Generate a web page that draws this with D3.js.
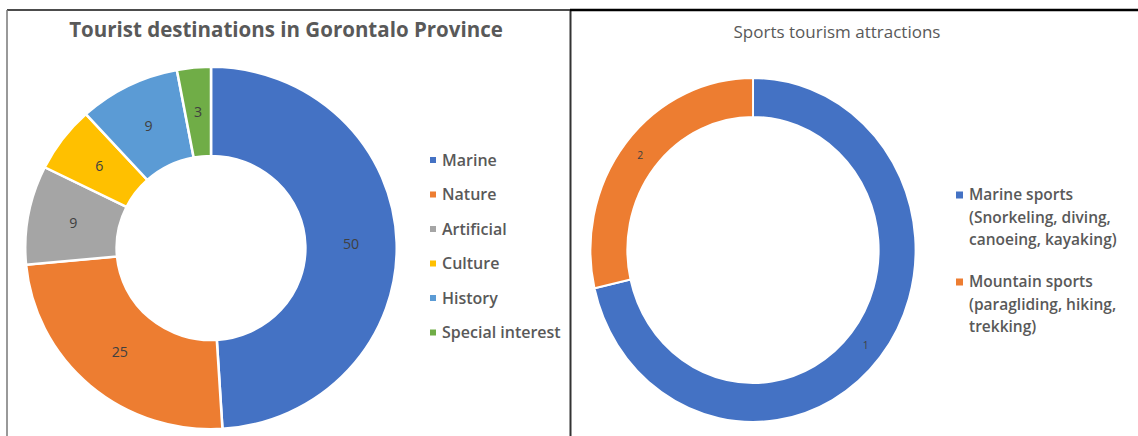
<!DOCTYPE html>
<html>
<head>
<meta charset="utf-8">
<script src="https://cdn.jsdelivr.net/npm/d3@7"></script>
<style>
  body { margin: 0; background: #fff; }
  svg { display: block; font-family: 'Open Sans', Lato, sans-serif; }
  .title { fill: #595959; }
  .legend text { fill: #595959; font-weight: 600; }
  .dlabel { fill: #404040; }
</style>
</head>
<body>
<script>
// left chart data
var destCategories = ['Marine', 'Nature', 'Artificial', 'Culture', 'History', 'Special interest'];
var destValues = [50, 25, 9, 6, 9, 3];
var destColors = ['#4472C4', '#ED7D31', '#A5A5A5', '#FFC000', '#5B9BD5', '#70AD47'];

// right chart data
var sportsCategories = [
  ['Marine sports', '(Snorkeling, diving,', 'canoeing, kayaking)'],
  ['Mountain sports', '(paragliding, hiking,', 'trekking)']
];
var sportsValues = [5, 2];
var sportsLabels = ['1', '2'];
var sportsColors = ['#4472C4', '#ED7D31'];

var width = 1138, height = 436;

var svg = d3.select('body').append('svg')
  .attr('width', width)
  .attr('height', height);

// panel frames
svg.append('line').attr('x1', 7).attr('y1', 10).attr('x2', 570).attr('y2', 10)
  .attr('stroke', '#111').attr('stroke-width', 1.5);
svg.append('line').attr('x1', 7).attr('y1', 10).attr('x2', 7).attr('y2', height)
  .attr('stroke', '#777').attr('stroke-width', 1.5);
svg.append('line').attr('x1', 570.5).attr('y1', 10).attr('x2', 570.5).attr('y2', height)
  .attr('stroke', '#333').attr('stroke-width', 2);
svg.append('line').attr('x1', 570).attr('y1', 10).attr('x2', width).attr('y2', 10)
  .attr('stroke', '#000').attr('stroke-width', 2.5);

var pie = d3.pie().sort(null).value(function (d) { return d; });

// ---- left donut ----
svg.append('text')
  .attr('class', 'title')
  .attr('x', 286).attr('y', 37)
  .attr('text-anchor', 'middle')
  .style('font-size', '20.5px')
  .style('font-weight', 'bold')
  .text('Tourist destinations in Gorontalo Province');

var outerL = 183, innerL = 93;
var arcL = d3.arc().innerRadius(innerL).outerRadius(outerL);
var labelArcL = d3.arc().innerRadius((outerL + innerL) / 2).outerRadius((outerL + innerL) / 2);

var gL = svg.append('g')
  .attr('transform', 'translate(211,248) scale(1.015,0.99)');

var slicesL = gL.selectAll('.sliceL')
  .data(pie(destValues))
  .enter()
  .append('g')
  .attr('class', 'sliceL');

slicesL.append('path')
  .attr('d', arcL)
  .attr('fill', function (d, i) { return destColors[i]; })
  .attr('stroke', '#fff')
  .attr('stroke-width', 2.5);

slicesL.append('text')
  .attr('class', 'dlabel')
  .attr('transform', function (d) { return 'translate(' + labelArcL.centroid(d) + ')'; })
  .attr('text-anchor', 'middle')
  .attr('dy', '0.35em')
  .style('font-size', '14px')
  .text(function (d) { return d.data; });

var legL = svg.append('g').attr('class', 'legend')
  .attr('transform', 'translate(430,160)');

var legItemL = legL.selectAll('g')
  .data(destCategories)
  .enter()
  .append('g')
  .attr('transform', function (d, i) { return 'translate(0,' + (i * 34.5) + ')'; });

legItemL.append('rect')
  .attr('x', 0).attr('y', -3)
  .attr('width', 6).attr('height', 6)
  .attr('fill', function (d, i) { return destColors[i]; });

legItemL.append('text')
  .attr('x', 12).attr('dy', '0.35em')
  .style('font-size', '16px')
  .text(function (d) { return d; });

// ---- right donut ----
svg.append('text')
  .attr('class', 'title')
  .attr('x', 837).attr('y', 38)
  .attr('text-anchor', 'middle')
  .style('font-size', '17px')
  .text('Sports tourism attractions');

var outerR = 172, innerR = 133;
var arcR = d3.arc().innerRadius(innerR).outerRadius(outerR);
var labelArcR = d3.arc().innerRadius((outerR + innerR) / 2).outerRadius((outerR + innerR) / 2);

var gR = svg.append('g')
  .attr('transform', 'translate(753,250) scale(0.945,1)');

var slicesR = gR.selectAll('.sliceR')
  .data(pie(sportsValues))
  .enter()
  .append('g')
  .attr('class', 'sliceR');

slicesR.append('path')
  .attr('d', arcR)
  .attr('fill', function (d, i) { return sportsColors[i]; })
  .attr('stroke', '#fff')
  .attr('stroke-width', 2);

slicesR.append('text')
  .attr('class', 'dlabel')
  .attr('transform', function (d) { return 'translate(' + labelArcR.centroid(d) + ')'; })
  .attr('text-anchor', 'middle')
  .attr('dy', '0.35em')
  .style('font-size', '11px')
  .text(function (d, i) { return sportsLabels[i]; });

var legR = svg.append('g').attr('class', 'legend')
  .attr('transform', 'translate(956,195)');

var legItemR = legR.selectAll('g')
  .data(sportsCategories)
  .enter()
  .append('g')
  .attr('transform', function (d, i) { return 'translate(0,' + (i * 87) + ')'; });

legItemR.append('rect')
  .attr('x', 0).attr('y', -3.5)
  .attr('width', 7).attr('height', 7)
  .attr('fill', function (d, i) { return sportsColors[i]; });

legItemR.append('text')
  .style('font-size', '15.5px')
  .selectAll('tspan')
  .data(function (d) { return d; })
  .enter()
  .append('tspan')
  .attr('x', 13)
  .attr('y', function (d, i) { return i * 22.5; })
  .attr('dy', '0.35em')
  .text(function (d) { return d; });
</script>
</body>
</html>
